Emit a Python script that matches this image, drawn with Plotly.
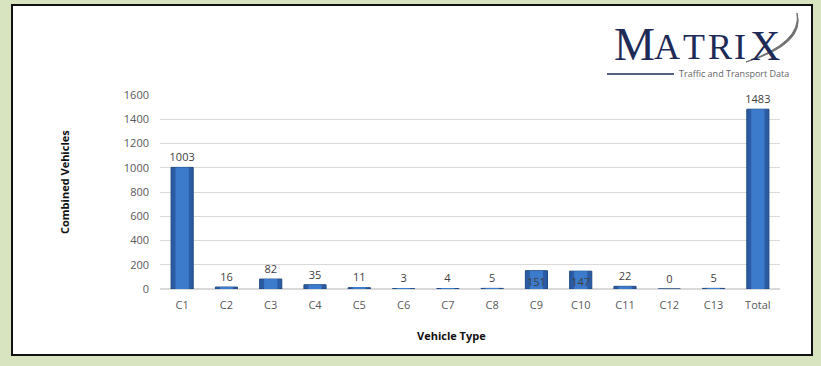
import plotly.graph_objects as go

# Vehicle classification counts
categories = ["C1", "C2", "C3", "C4", "C5", "C6", "C7", "C8", "C9", "C10", "C11", "C12", "C13", "Total"]
counts = [1003, 16, 82, 35, 11, 3, 4, 5, 151, 147, 22, 0, 5, 1483]
y_ticks = [0, 200, 400, 600, 800, 1000, 1200, 1400, 1600]

W, H = 821, 366
L, R, T, B = 160, 41, 95, 77
pw, ph = W - L - R, H - T - B
FONT = "Open Sans, Liberation Sans, sans-serif"


def px(x):
    return (x - L) / pw


def py(y):
    return (H - B - y) / ph


label_pos = ["inside" if c in ("C9", "C10") else "outside" for c in categories]

fig = go.Figure()
# outer (darker) body of each column
fig.add_trace(go.Bar(
    x=categories, y=counts,
    width=0.5,
    marker=dict(color="#2b5ca3", line=dict(color="#1f4a85", width=1)),
    hoverinfo="x+y",
))
# lighter centre highlight for a rounded look, carrying the value labels
fig.add_trace(go.Bar(
    x=categories, y=counts,
    width=0.3,
    marker=dict(color="#3c7bcc", line=dict(width=0)),
    text=[str(v) for v in counts],
    textposition=label_pos,
    textangle=0,
    insidetextanchor="end",
    constraintext="none",
    textfont=dict(family=FONT, size=11, color="#404040"),
    insidetextfont=dict(family=FONT, color="#404040", size=11),
    outsidetextfont=dict(family=FONT, color="#404040", size=11),
    cliponaxis=False,
    hoverinfo="skip",
))

shapes = [
    # white chart card with dark frame
    dict(type="rect", xref="paper", yref="paper", layer="below",
         x0=px(12), x1=px(812), y0=py(355), y1=py(5),
         fillcolor="white", line=dict(color="#111111", width=2)),
    # logo underline
    dict(type="line", xref="paper", yref="paper",
         x0=px(607), x1=px(674), y0=py(74), y1=py(74),
         line=dict(color="#1e2b57", width=1.5)),
    # logo swoosh
    dict(type="path", xref="paper", yref="paper",
         path=f"M {px(746)},{py(62)} Q {px(802)},{py(42)} {px(797)},{py(13)} "
              f"Q {px(806)},{py(44)} {px(746)},{py(62)} Z",
         fillcolor="#707070", line=dict(color="#707070", width=1)),
]

logo_letters = ["M", "A", "T", "R", "I", "X"]
logo_x = [634, 667, 694, 720, 740, 765]
logo_size = [46, 36, 36, 36, 36, 42]
logo_y = [44, 47, 47, 47, 47, 46]

annotations = [
    dict(text=ch, xref="paper", yref="paper", x=px(xc), y=py(yc),
         xanchor="center", yanchor="middle", showarrow=False,
         font=dict(family="Liberation Serif, DejaVu Serif, serif", size=sz, color="#1e2b57"))
    for ch, xc, yc, sz in zip(logo_letters, logo_x, logo_y, logo_size)
]
annotations += [
    dict(text="Traffic and Transport Data", xref="paper", yref="paper", x=px(677), y=py(74),
         xanchor="left", yanchor="middle", showarrow=False,
         font=dict(family=FONT, size=9, color="#666666")),
    dict(text="<b>Combined Vehicles</b>", xref="paper", yref="paper", x=px(64), y=py(182),
         xanchor="center", yanchor="middle", textangle=-90, showarrow=False,
         font=dict(family=FONT, size=11, color="#111111")),
    dict(text="<b>Vehicle Type</b>", xref="paper", yref="paper", x=px(451), y=py(335),
         xanchor="center", yanchor="middle", showarrow=False,
         font=dict(family=FONT, size=11, color="#111111")),
]

fig.update_layout(
    width=W, height=H,
    margin=dict(l=L, r=R, t=T, b=B),
    paper_bgcolor="#d8e4bf",
    plot_bgcolor="white",
    showlegend=False,
    barmode="overlay",
    shapes=shapes,
    annotations=annotations,
    xaxis=dict(
        showgrid=False, showline=True, linecolor="#d9d9d9", linewidth=1,
        ticks="", tickfont=dict(family=FONT, size=11, color="#595959"),
        ticklabelstandoff=6,
    ),
    yaxis=dict(
        range=[0, 1600], tickvals=y_ticks,
        showgrid=True, gridcolor="#d9d9d9", gridwidth=1,
        zeroline=True, zerolinecolor="#d9d9d9",
        ticks="", tickfont=dict(family=FONT, size=11, color="#595959"),
        ticklabelstandoff=10,
    ),
)

fig.write_html("out.html")
